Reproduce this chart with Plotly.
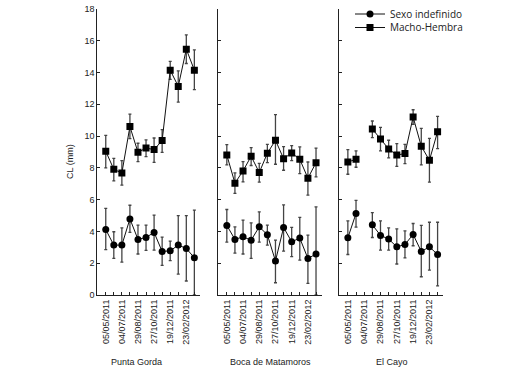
import plotly.graph_objects as go

# ---------------- data ----------------
sites = ["Punta Gorda", "Boca de Matamoros", "El Cayo"]
sample_idx = list(range(12))
tick_labels = ["05/05/2011", "", "04/07/2011", "", "29/08/2011", "",
               "27/10/2011", "", "19/12/2011", "", "23/02/2012", ""]
y_ticks = [0, 2, 4, 6, 8, 10, 12, 14, 16, 18]

# Macho-Hembra (squares): mean, upper, lower
mh_pg_mean = [9.05, 7.91, 7.68, 10.6, 8.98, 9.25, 9.15, 9.72, 14.15, 13.13, 15.47, 14.15]
mh_pg_up   = [10.05, 8.6, 8.46, 11.39, 9.55, 9.76, 9.88, 10.41, 14.7, 14.1, 16.37, 15.43]
mh_pg_lo   = [8.0, 7.18, 6.91, 9.84, 8.4, 8.71, 8.35, 8.98, 13.57, 12.14, 14.57, 12.92]

mh_bm_mean = [8.81, 7.04, 7.81, 8.73, 7.71, 8.92, 9.74, 8.58, 8.94, 8.54, 7.35, 8.33]
mh_bm_up   = [9.46, 7.68, 8.4, 9.28, 8.29, 9.48, 11.35, 9.34, 9.4, 9.32, 8.37, 9.25]
mh_bm_lo   = [8.19, 6.39, 7.12, 8.15, 7.1, 8.33, 8.23, 7.85, 8.46, 7.64, 6.28, 7.43]

mh_ec_mean = [8.37, 8.54, None, 10.45, 9.82, 9.19, 8.81, 8.9, 11.2, 9.36, 8.48, 10.28]
mh_ec_up   = [9.15, 9.07, None, 10.95, 10.55, 9.74, 9.53, 9.48, 11.66, 10.49, 9.86, 11.24]
mh_ec_lo   = [7.6, 8.04, None, 9.9, 9.07, 8.63, 8.1, 8.27, 10.74, 8.19, 7.1, 9.21]

# Sexo indefinido (circles): mean, upper, lower
si_pg_mean = [4.12, 3.14, 3.14, 4.79, 3.5, 3.62, 3.94, 2.74, 2.78, 3.14, 2.93, 2.34]
si_pg_up   = [5.45, 3.98, 4.23, 5.65, 4.4, 4.4, 5.03, 3.64, 3.39, 5.0, 5.0, 5.34]
si_pg_lo   = [2.85, 2.3, 2.07, 3.94, 2.58, 2.81, 2.83, 1.87, 2.16, 1.32, 0.88, 0.0]

si_bm_mean = [4.38, 3.5, 3.66, 3.45, 4.29, 3.79, 2.14, 4.25, 3.35, 3.58, 2.3, 2.58]
si_bm_up   = [5.38, 4.29, 4.71, 4.54, 5.23, 4.4, 3.45, 5.67, 4.25, 4.88, 3.77, 5.55]
si_bm_lo   = [3.33, 2.64, 2.58, 2.3, 3.33, 3.14, 0.77, 2.76, 2.41, 2.2, 0.73, 0.0]

si_ec_mean = [3.6, 5.13, None, 4.42, 3.75, 3.52, 3.03, 3.18, 3.81, 2.74, 3.03, 2.55]
si_ec_up   = [4.67, 5.95, None, 5.19, 4.67, 4.23, 4.16, 4.04, 4.5, 4.38, 4.58, 4.58]
si_ec_lo   = [2.55, 4.27, None, 3.62, 2.83, 2.83, 1.95, 2.34, 3.1, 1.15, 1.57, 0.58]

series = [
    ("Sexo indefinido", "circle", "legend", [(si_pg_mean, si_pg_up, si_pg_lo),
                                             (si_bm_mean, si_bm_up, si_bm_lo),
                                             (si_ec_mean, si_ec_up, si_ec_lo)]),
    ("Macho-Hembra", "square", "legend2", [(mh_pg_mean, mh_pg_up, mh_pg_lo),
                                           (mh_bm_mean, mh_bm_up, mh_bm_lo),
                                           (mh_ec_mean, mh_ec_up, mh_ec_lo)]),
]

# ---------------- figure ----------------
W, H = 528, 374
fig = go.Figure()


def err(vals, ref):
    out = []
    for v, r in zip(vals, ref):
        out.append(None if (v is None or r is None) else v - r)
    return out


for name, sym, leg, panels in series:
    for p, (mean, up, lo) in enumerate(panels):
        ax = "" if p == 0 else str(p + 1)
        fig.add_trace(go.Scatter(
            x=sample_idx, y=mean, name=name, mode="lines+markers",
            xaxis="x" + ax, yaxis="y" + ax,
            showlegend=(p == 0), legendgroup=name, legend=leg,
            connectgaps=False,
            line=dict(color="#111", width=1),
            marker=dict(symbol=sym, size=7, color="#000"),
            error_y=dict(type="data", symmetric=False,
                         array=err(up, mean), arrayminus=err(mean, lo),
                         color="#444", thickness=1.3, width=1.5),
        ))


def px(x):
    return x / W


def py(y):
    return 1 - y / H


domains = [(97.3, 200.0), (218.3, 321.7), (339.3, 443.3)]
ydom = [py(295), py(9)]
tickfont = dict(family="Liberation Sans, Arial", size=9, color="#222")
legfont = dict(family="Open Sans", size=10, color="#222")

layout = dict(
    width=W, height=H,
    margin=dict(l=0, r=0, t=0, b=0, autoexpand=False),
    paper_bgcolor="white", plot_bgcolor="white",
    showlegend=True, hovermode=False,
    legend=dict(x=px(350), y=py(14), xanchor="left", yanchor="middle",
                font=legfont, bgcolor="rgba(0,0,0,0)", itemwidth=30),
    legend2=dict(x=px(350), y=py(27.5), xanchor="left", yanchor="middle",
                 font=legfont, bgcolor="rgba(0,0,0,0)", itemwidth=30),
)
for p, (a, b) in enumerate(domains):
    ax = "" if p == 0 else str(p + 1)
    layout["xaxis" + ax] = dict(
        domain=[px(a), px(b)], range=[-1.05, 11.7],
        tickmode="array", tickvals=sample_idx, ticktext=tick_labels,
        tickangle=-90, ticks="inside", ticklen=3, tickcolor="#222",
        showline=True, linecolor="#222", linewidth=1,
        showgrid=False, zeroline=False, tickfont=tickfont,
        anchor="y" + ax, automargin=False, fixedrange=True,
    )
    layout["yaxis" + ax] = dict(
        domain=ydom, range=[0, 18],
        tickmode="array", tickvals=y_ticks,
        showticklabels=(p == 0), ticklabeloverflow="allow",
        ticks="inside", ticklen=3, tickcolor="#222",
        showline=True, linecolor="#222", linewidth=1,
        showgrid=False, zeroline=False, tickfont=tickfont,
        anchor="x" + ax, automargin=False, fixedrange=True,
    )

annotations = []
label_x = [136.5, 270.0, 391.5]
for s, lx in zip(sites, label_x):
    annotations.append(dict(text=s, x=px(lx), y=py(362), xref="paper", yref="paper",
                            showarrow=False, xanchor="center", yanchor="middle",
                            font=dict(family="Liberation Sans, Arial", size=9, color="#222")))
annotations.append(dict(text="CL (mm)", x=px(70), y=py(162), xref="paper", yref="paper",
                        showarrow=False, textangle=-90, xanchor="center", yanchor="middle",
                        font=dict(family="Liberation Sans, Arial", size=9, color="#222")))
layout["annotations"] = annotations

fig.update_layout(**layout)
# remove the default 8px page margin so the figure fills the window exactly
fig.write_html("out.html",
               config={"displayModeBar": False, "staticPlot": True},
               post_script="document.body.style.margin='0';document.body.style.overflow='hidden';")
